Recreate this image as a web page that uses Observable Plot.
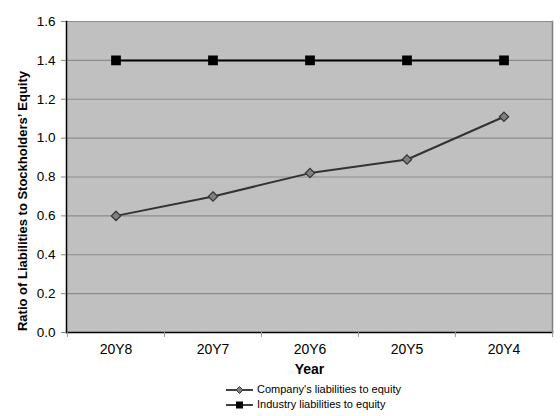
<!DOCTYPE html>
<html><head><meta charset="utf-8">
<script src="https://cdn.jsdelivr.net/npm/d3@7"></script>
<script src="https://cdn.jsdelivr.net/npm/@observablehq/plot@0.6"></script>
<style>
body{margin:0;background:#fff;font-family:"Liberation Sans",Arial,sans-serif;}
#legend{padding-left:226px;margin-top:4px;font-size:11px;color:#000;line-height:15px;}
#legend div{display:flex;align-items:center;}
#legend svg{margin-right:4px;}
</style>
</head><body>
<div id="chart"></div>
<div id="legend"></div>
<script>
const years = ["20Y8","20Y7","20Y6","20Y5","20Y4"];
const company = [0.60, 0.70, 0.82, 0.89, 1.11];
const industry = [1.4, 1.4, 1.4, 1.4, 1.4];
const yTicks = [0,0.2,0.4,0.6,0.8,1.0,1.2,1.4,1.6];
const seriesNames = ["Company's liabilities to equity","Industry liabilities to equity"];

const comp = years.map((y,i)=>({year:y,value:company[i]}));
const ind = years.map((y,i)=>({year:y,value:industry[i]}));

const W = 560, H = 378, ML = 66, MR = 8, MT = 21, MB = 46;
const bw = (W-ML-MR)/years.length;

const plot = Plot.plot({
  width: W, height: H,
  marginLeft: ML, marginRight: MR, marginTop: MT, marginBottom: MB,
  style:{fontFamily:"Liberation Sans, Arial, sans-serif", fontSize:"13px", background:"#fff", color:"#000"},
  x:{type:"band", domain:years, padding:0, label:null},
  y:{domain:[0,1.6], label:null},
  marks:[
    Plot.frame({fill:"#c0c0c0"}),
    Plot.gridY(yTicks.filter(d=>d>0), {stroke:"#8c8c8c", strokeOpacity:1, strokeWidth:1.2}),
    Plot.frame({anchor:"left", stroke:"#000", strokeWidth:1.5}),
    Plot.frame({anchor:"bottom", stroke:"#000", strokeWidth:1.5}),
    Plot.frame({anchor:"right", stroke:"#808080", strokeWidth:1.5}),
    Plot.axisY({ticks:yTicks, tickFormat:d3.format(".1f"), tickSize:5, tickPadding:6, fontSize:13.5, stroke:"#888"}),
    Plot.axisX({tickSize:0, tickPadding:12, fontSize:14, label:null}),
    Plot.ruleX(years,{x:d=>d, y1:0, y2:0, insetBottom:-5, dx:-bw/2, stroke:"#999"}),
    Plot.ruleX(years.slice(-1),{x:d=>d, y1:0, y2:0, insetBottom:-5, dx:bw/2, stroke:"#999"}),
    Plot.text(["Year"],{frameAnchor:"bottom", dy:MB-5, lineAnchor:"bottom", fontWeight:"bold", fontSize:14}),
    Plot.text(["Ratio of Liabilities to Stockholders\u2019 Equity"],{frameAnchor:"left", dx:-44, dy:24, rotate:-90, textAnchor:"middle", fontWeight:"bold", fontSize:13}),
    Plot.line(ind,{x:"year", y:"value", stroke:"#000", strokeWidth:2}),
    Plot.dot(ind,{x:"year", y:"value", symbol:"square", r:5.5, fill:"#000", stroke:"none"}),
    Plot.line(comp,{x:"year", y:"value", stroke:"#333", strokeWidth:2}),
    Plot.dot(comp,{x:"year", y:"value", symbol:"diamond2", r:4.2, fill:"#808080", stroke:"#333", strokeWidth:1.2})
  ]
});
document.getElementById("chart").append(plot);

const leg = document.getElementById("legend");
leg.innerHTML = `
<div><svg width="27" height="10"><line x1="0" y1="5" x2="27" y2="5" stroke="#000" stroke-width="1.5"/><path d="M13.5 1.5L17 5L13.5 8.5L10 5Z" fill="#808080" stroke="#333"/></svg>${seriesNames[0]}</div>
<div><svg width="27" height="10"><line x1="0" y1="5" x2="27" y2="5" stroke="#000" stroke-width="1.5"/><rect x="10" y="1.5" width="7" height="7" fill="#000"/></svg>${seriesNames[1]}</div>`;
</script>
</body></html>
